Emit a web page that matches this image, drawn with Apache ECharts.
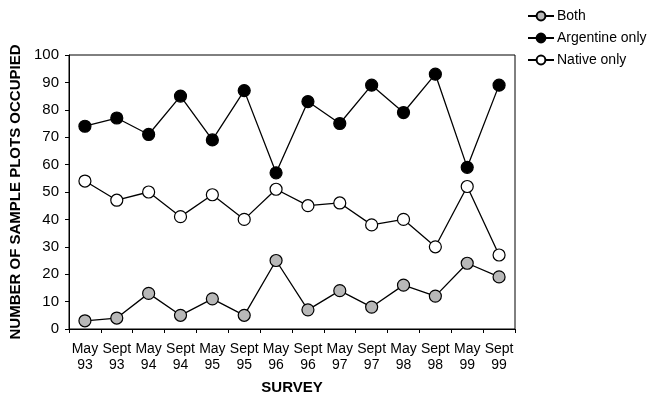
<!DOCTYPE html>
<html><head><meta charset="utf-8">
<script src="https://cdn.jsdelivr.net/npm/echarts@6/dist/echarts.min.js"></script>
<style>html,body{margin:0;padding:0;background:#fff}#c{width:649px;height:395px}</style>
</head><body><div id="c"></div>
<script>
const categories = ['May\n93','Sept\n93','May\n94','Sept\n94','May\n95','Sept\n95','May\n96','Sept\n96','May\n97','Sept\n97','May\n98','Sept\n98','May\n99','Sept\n99'];
const both = [3, 4, 13, 5, 11, 5, 25, 7, 14, 8, 16, 12, 24, 19];
const argentineOnly = [74, 77, 71, 85, 69, 87, 57, 83, 75, 89, 79, 93, 59, 89];
const nativeOnly = [54, 47, 50, 41, 49, 40, 51, 45, 46, 38, 40, 30, 52, 27];
const yTicks = [0,10,20,30,40,50,60,70,80,90,100];

const font = '"Liberation Sans", Arial, sans-serif';
const chart = echarts.init(document.getElementById('c'));
function ser(name, data, fill) {
  return {
    name, type: 'line', data,
    symbol: 'circle', symbolSize: 12,
    lineStyle: { color: '#000', width: 1.3 },
    itemStyle: { color: fill, borderColor: '#000', borderWidth: 1.2 },
    emphasis: { disabled: true },
    animation: false
  };
}
chart.setOption({
  animation: false,
  textStyle: { fontFamily: font },
  grid: { left: 69, top: 55, width: 446, height: 274, show: true, borderColor: '#000', borderWidth: 1,
    containLabel: false, outerBoundsMode: 'none' },
  legend: {
    orient: 'vertical', left: 522, top: 4, itemGap: 8, itemWidth: 26, itemHeight: 11,
    textStyle: { fontFamily: font, fontSize: 14, color: '#000', padding: [0, 0, 0, -2] },
    data: ['Both', 'Argentine only', 'Native only']
  },
  xAxis: {
    type: 'category', data: categories, boundaryGap: true,
    name: 'SURVEY', nameLocation: 'middle', nameGap: 51,
    nameTextStyle: { fontFamily: font, fontSize: 15, fontWeight: 'bold', color: '#000' },
    axisLine: { lineStyle: { color: '#000', width: 1 } },
    axisTick: { show: true, length: 4, lineStyle: { color: '#000' } },
    axisLabel: { color: '#000', fontSize: 14, fontFamily: font, lineHeight: 16, margin: 12, interval: 0 }
  },
  yAxis: {
    type: 'value', min: 0, max: 100, interval: 10,
    name: 'NUMBER OF SAMPLE PLOTS OCCUPIED', nameLocation: 'middle', nameGap: 43,
    nameTextStyle: { fontFamily: font, fontSize: 15, fontWeight: 'bold', color: '#000' },
    axisLine: { show: true, lineStyle: { color: '#000', width: 1 } },
    axisTick: { show: true, length: 4, lineStyle: { color: '#000' } },
    splitLine: { show: false },
    axisLabel: { color: '#000', fontSize: 15, fontFamily: font, margin: 10,
      formatter: v => yTicks.includes(v) ? String(v) : '' }
  },
  series: [
    ser('Both', both, '#b8b8b8'),
    ser('Argentine only', argentineOnly, '#000'),
    ser('Native only', nativeOnly, '#fff')
  ]
});
</script></body></html>
